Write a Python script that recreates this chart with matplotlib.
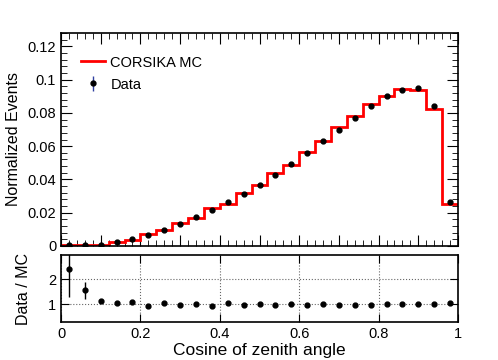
import numpy as np
import matplotlib
matplotlib.use('Agg')
import matplotlib.pyplot as plt
from matplotlib.ticker import MultipleLocator, FixedLocator

plt.rcParams['font.family'] = ['Liberation Sans', 'DejaVu Sans']

# 25 bins in cos(zenith), width 0.04
edges = np.linspace(0, 1, 26)
centers = 0.5 * (edges[:-1] + edges[1:])

mc = [0.0003, 0.0004, 0.0005, 0.0022, 0.0036, 0.0072, 0.0094, 0.0136, 0.0168,
      0.0226, 0.0250, 0.0320, 0.0364, 0.0436, 0.0486, 0.0562, 0.0628, 0.0716,
      0.0780, 0.0854, 0.0900, 0.0942, 0.0938, 0.0826, 0.0254]

data = [0.0003, 0.0005, 0.0008, 0.0024, 0.0042, 0.0068, 0.0098, 0.0134, 0.0172,
        0.0214, 0.0262, 0.0312, 0.0366, 0.0428, 0.0494, 0.0560, 0.0628, 0.0700,
        0.0770, 0.0842, 0.0900, 0.0938, 0.0950, 0.0842, 0.0262]

data_err = [0.0002, 0.0002, 0.0003, 0.0003, 0.0003, 0.0003, 0.0003, 0.0003, 0.0003,
            0.0003, 0.0003, 0.0003, 0.0003, 0.0003, 0.0003, 0.0003, 0.0003, 0.0003,
            0.0003, 0.0003, 0.0003, 0.0003, 0.0003, 0.0003, 0.0003]

ratio = [2.39, 1.55, 1.14, 1.04, 1.10, 0.93, 1.05, 0.97, 1.01, 0.95, 1.04, 0.96,
         1.01, 0.97, 1.01, 0.99, 1.00, 0.97, 0.99, 0.99, 1.00, 1.00, 1.01, 1.01, 1.03]

ratio_err = [1.09, 0.35, 0.05, 0.03, 0.03, 0.02, 0.02, 0.02, 0.02, 0.02, 0.02, 0.02,
             0.02, 0.02, 0.02, 0.02, 0.02, 0.02, 0.02, 0.02, 0.02, 0.02, 0.02, 0.02, 0.02]

fig = plt.figure(figsize=(4.98, 3.6), dpi=100)
ax = fig.add_axes([0.1225, 0.3167, 0.7972, 0.5916])
axr = fig.add_axes([0.1225, 0.1047, 0.7972, 0.1860])

ax.stairs(mc, edges, color='red', lw=2, baseline=None, label='CORSIKA MC', zorder=2)
ax.errorbar(centers, data, yerr=data_err, fmt='o', color='black', ecolor='#3040a0',
            ms=3.5, elinewidth=1, capsize=0, label='Data', zorder=3)

ax.set_xlim(0, 1)
ax.set_ylim(0, 0.128)
ax.set_ylabel('Normalized Events', fontsize=11.5)
ax.yaxis.set_major_locator(MultipleLocator(0.02))
ax.yaxis.set_minor_locator(MultipleLocator(0.004))
ax.xaxis.set_major_locator(MultipleLocator(0.1))
ax.xaxis.set_minor_locator(MultipleLocator(0.02))
ax.set_yticks([0, 0.02, 0.04, 0.06, 0.08, 0.1, 0.12])
ax.set_yticklabels(['0', '0.02', '0.04', '0.06', '0.08', '0.1', '0.12'])
ax.tick_params(which='both', direction='in', top=True, right=True, labelbottom=False,
               labelsize=10.5)
ax.tick_params(which='major', length=8)
ax.tick_params(which='minor', length=4)
ax.legend(loc='upper left', bbox_to_anchor=(0.018, 0.956), frameon=False, fontsize=10.5,
          handlelength=1.6, handletextpad=0.4, labelspacing=0.55)

axr.errorbar(centers, ratio, yerr=ratio_err, fmt='o', color='black', ms=3.5,
             elinewidth=1, capsize=0)
axr.set_xlim(0, 1)
axr.set_ylim(0.28, 2.95)
axr.xaxis.set_major_locator(MultipleLocator(0.2))
axr.yaxis.set_major_locator(FixedLocator([1, 2]))
axr.set_xticks([0, 0.2, 0.4, 0.6, 0.8, 1.0])
axr.set_xticklabels(['0', '0.2', '0.4', '0.6', '0.8', '1'])
axr.grid(True, linestyle=':', color='black', lw=0.8, alpha=0.6)
axr.tick_params(direction='in', top=True, right=True, labelsize=10.5, length=6)
axr.set_ylabel('Data / MC', fontsize=11.5)
axr.set_xlabel('Cosine of zenith angle', fontsize=12.5, labelpad=1)
axr.yaxis.set_label_coords(-0.076, 0.5)
ax.yaxis.set_label_coords(-0.1, 0.5)

for a in (ax, axr):
    for s in a.spines.values():
        s.set_linewidth(1.2)

fig.savefig('out.png', dpi=100)
